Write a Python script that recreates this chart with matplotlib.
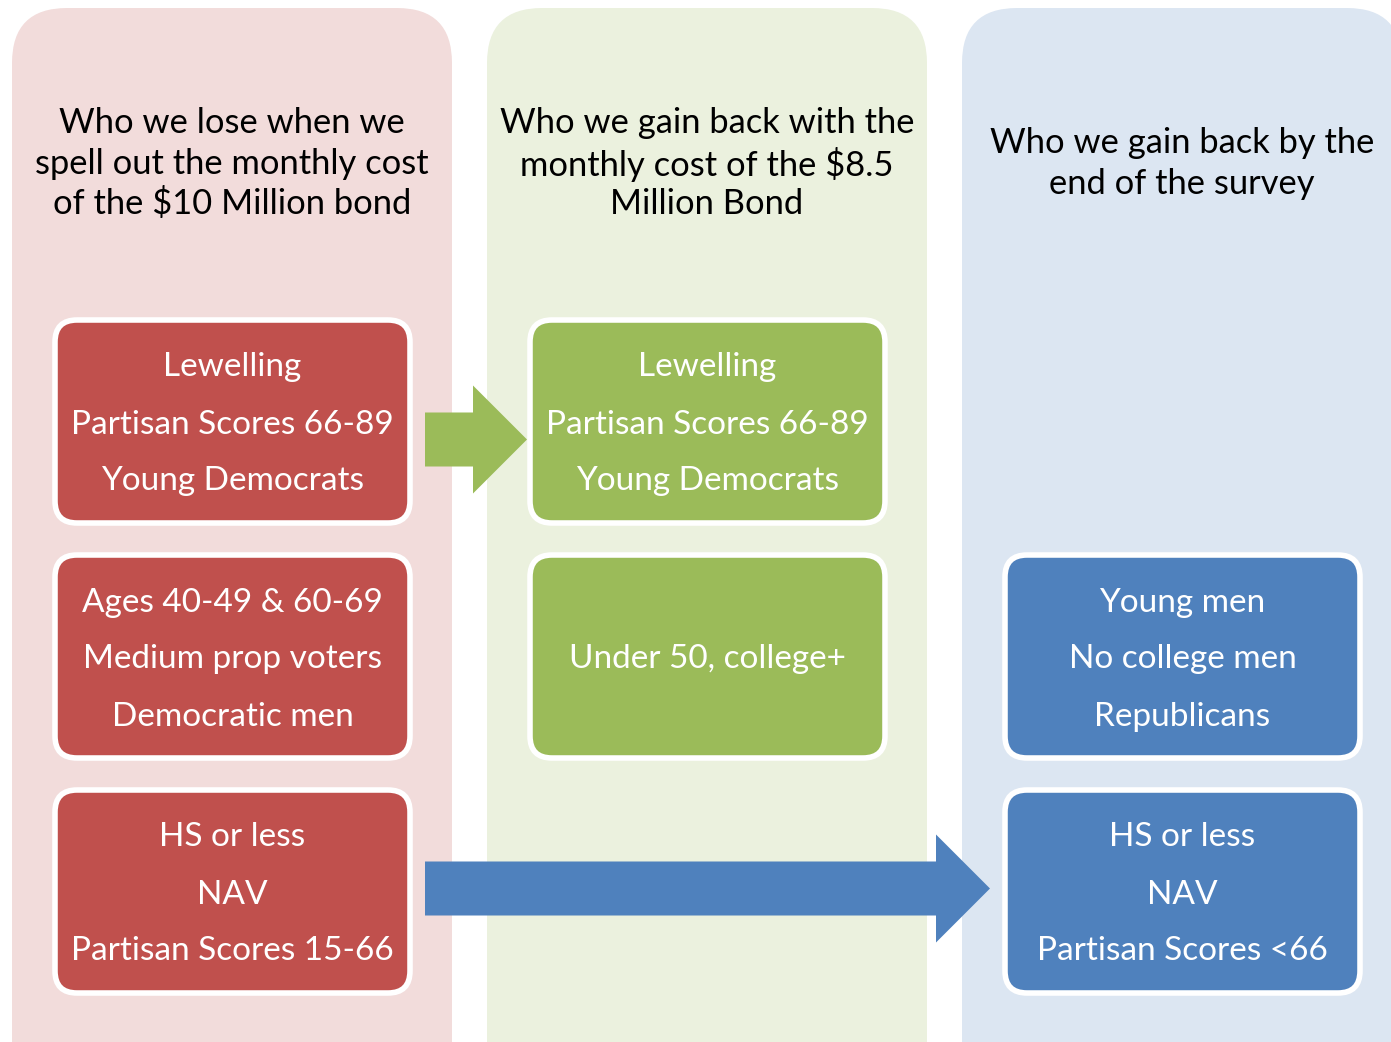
import matplotlib
matplotlib.use("Agg")
import matplotlib.pyplot as plt
from matplotlib.patches import FancyBboxPatch, Polygon

# ---- content ----
headers = [
    "Who we lose when we\nspell out the monthly cost\nof the $10 Million bond",
    "Who we gain back with the\nmonthly cost of the $8.5\nMillion Bond",
    "Who we gain back by the\nend of the survey",
]
col_bg = ["#F2DCDB", "#EBF1DE", "#DCE6F2"]
box_fill = ["#C0504D", "#9BBB59", "#4F81BD"]

# (column index, row index, lines)
boxes = [
    (0, 0, ["Lewelling", "Partisan Scores 66-89", "Young Democrats"]),
    (0, 1, ["Ages 40-49 & 60-69", "Medium prop voters", "Democratic men"]),
    (0, 2, ["HS or less", "NAV", "Partisan Scores 15-66"]),
    (1, 0, ["Lewelling", "Partisan Scores 66-89", "Young Democrats"]),
    (1, 1, ["Under 50, college+"]),
    (2, 1, ["Young men", "No college men", "Republicans"]),
    (2, 2, ["HS or less", "NAV", "Partisan Scores <66"]),
]
# arrows: (from column, to column, row, colour)
arrows = [(0, 1, 0, "#9BBB59"), (0, 2, 2, "#4F81BD")]

FONT = ["Lato", "DejaVu Sans"]

W, H = 1391, 1042
fig = plt.figure(figsize=(W / 100, H / 100), dpi=100)
ax = fig.add_axes([0, 0, 1, 1])
ax.set_xlim(0, W)
ax.set_ylim(H, 0)
ax.axis("off")

col_x0 = [12, 487, 962]
col_w = 440
row_y = [320, 555, 790]
box_h = 203
# layout of each arrow: (centre y offset from box centre, tip offset from column left)
arrow_layout = [(18, 40), (-3, 28)]

for i, x0 in enumerate(col_x0):
    ax.add_patch(FancyBboxPatch((x0, 8), col_w, 1150,
                                boxstyle="round,pad=0,rounding_size=55",
                                fc=col_bg[i], ec="none", zorder=1))
    hy = [123, 164, 204] if headers[i].count("\n") == 2 else [143, 184]
    for j, line in enumerate(headers[i].split("\n")):
        ax.text(x0 + col_w / 2, hy[j], line, ha="center", va="center",
                fontsize=24.8, family=FONT, color="black", zorder=5)

for c, r, lines in boxes:
    x0 = col_x0[c] + 43
    y0 = row_y[r]
    ax.add_patch(FancyBboxPatch((x0, y0), 355, box_h,
                                boxstyle="round,pad=0,rounding_size=22",
                                fc=box_fill[c], ec="white", lw=4.0, zorder=3))
    cy = y0 + box_h / 2 + 3
    n = len(lines)
    for k, line in enumerate(lines):
        yy = cy + (k - (n - 1) / 2) * 57
        ax.text(x0 + 355 / 2, yy, line, ha="center", va="center",
                fontsize=24, family=FONT, color="white", zorder=5)

for (c0, c1, r, colr), (dy, tipoff) in zip(arrows, arrow_layout):
    cy = row_y[r] + box_h / 2 + dy
    xs = col_x0[c0] + 413
    tip = col_x0[c1] + tipoff
    hx = tip - 54
    pts = [(xs, cy - 27), (hx, cy - 27), (hx, cy - 54), (tip, cy),
           (hx, cy + 54), (hx, cy + 27), (xs, cy + 27)]
    ax.add_patch(Polygon(pts, closed=True, fc=colr, ec="none", zorder=4))

fig.savefig("out.png", dpi=100, facecolor="white")
